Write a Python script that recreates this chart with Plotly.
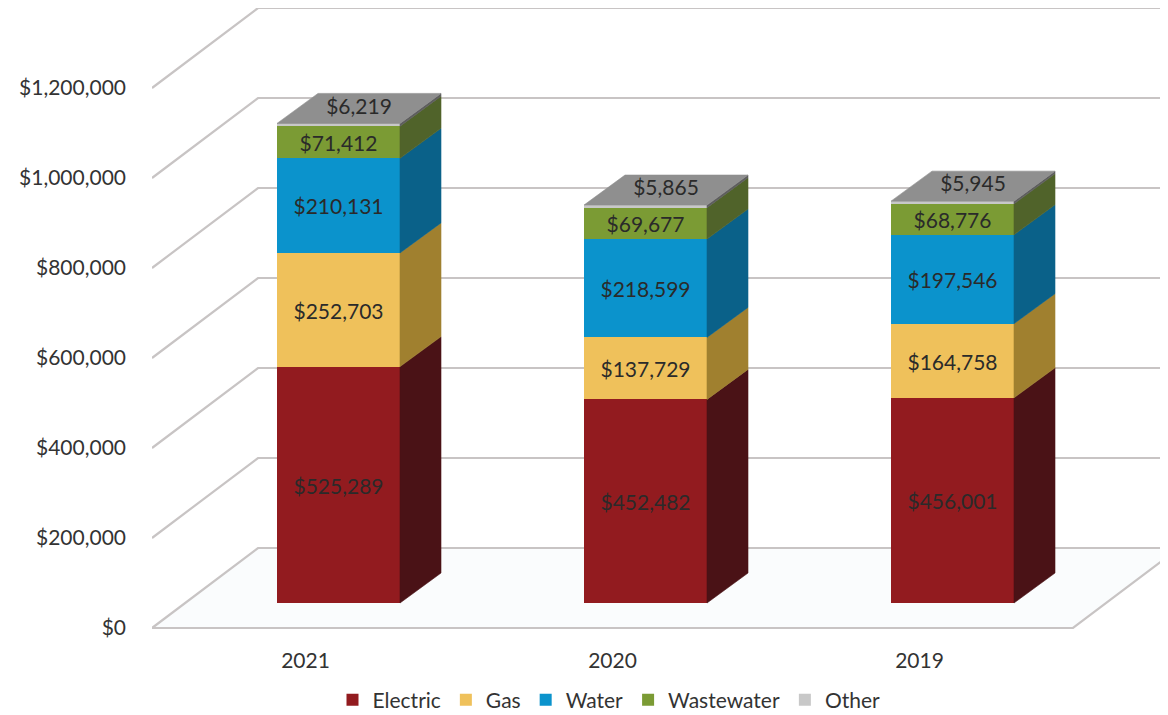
import plotly.graph_objects as go

# ---------------- data ----------------
YEARS = ["2021", "2020", "2019"]
SERIES = ["Electric", "Gas", "Water", "Wastewater", "Other"]
ELECTRIC = [525289, 452482, 456001]
GAS = [252703, 137729, 164758]
WATER = [210131, 218599, 197546]
WASTEWATER = [71412, 69677, 68776]
OTHER = [6219, 5865, 5945]
Y_TICKS = [0, 200000, 400000, 600000, 800000, 1000000, 1200000]

VALUES = [ELECTRIC, GAS, WATER, WASTEWATER, OTHER]

# ---------------- styles ----------------
FRONT = ["#921b1f", "#efc15b", "#0b93cc", "#7b9b34", "#c8c8c8"]
SIDE = ["#4a1216", "#a0802f", "#0a6189", "#50632a", "#5e5e5e"]
TOP = "#8f8f8f"
TXT = "#2a2a2a"
AX_TXT = "#333333"
FONT = "Lato"
FS = 21

# page offset of the browser's default body margin
PAGE_OFF = 8
FIG_W, FIG_H = 1168 - PAGE_OFF, 715 - PAGE_OFF

# geometry (axis units: x -> one category per unit, y -> dollars)
PX_PER_X = 307.0
PX_PER_Y = 0.00045
BAR_W = 123 / PX_PER_X
FRONT_DX = 33 / PX_PER_X        # bar front plane offset into depth
FRONT_DY = 25 / PX_PER_Y
DEPTH_DX = 41 / PX_PER_X        # bar depth
DEPTH_DY = 30 / PX_PER_Y
WALL_DX = 106 / PX_PER_X        # full wall depth
WALL_DY = 80 / PX_PER_Y
X0 = -0.5
X_FLOOR_END = 2.5
PLOT_LEFT = 152 - PAGE_OFF
X_RANGE_END = X0 + (FIG_W - PLOT_LEFT) / PX_PER_X
PLOT_BOTTOM = 640 - PAGE_OFF
ZERO_Y = 628 - PAGE_OFF
Y_MIN = -(PLOT_BOTTOM - ZERO_Y) / PX_PER_Y
Y_MAX = Y_MIN + PLOT_BOTTOM / PX_PER_Y

fig = go.Figure()

n = len(YEARS)
cum = [0] * n
for j, name in enumerate(SERIES):
    vals = VALUES[j]
    xs = [i + FRONT_DX for i in range(n)]
    bases = [cum[i] + FRONT_DY for i in range(n)]
    show_text = name != "Other"
    fig.add_trace(go.Bar(
        name=name, x=xs, y=vals, base=bases, width=BAR_W,
        marker=dict(color=FRONT[j], line=dict(width=0)),
        text=[f"${v:,}" for v in vals] if show_text else None,
        textposition="inside" if show_text else "none",
        insidetextanchor="middle", textangle=0, constraintext="none",
        textfont=dict(family=FONT, size=FS, color=TXT),
        hovertemplate=name + ": $%{y:,}<extra></extra>",
    ))
    # side faces
    sx, sy = [], []
    for i in range(n):
        xr = i + FRONT_DX + BAR_W / 2
        a = cum[i] + FRONT_DY
        b = cum[i] + vals[i] + FRONT_DY
        sx += [xr, xr, xr + DEPTH_DX, xr + DEPTH_DX, xr, None]
        sy += [a, b, b + DEPTH_DY, a + DEPTH_DY, a, None]
    fig.add_trace(go.Scatter(
        x=sx, y=sy, mode="lines", fill="toself", fillcolor=SIDE[j],
        line=dict(color=SIDE[j], width=0.6), showlegend=False, hoverinfo="skip"))
    cum = [cum[i] + vals[i] for i in range(n)]

# top faces
tx, ty = [], []
for i in range(n):
    xl = i + FRONT_DX - BAR_W / 2
    xr = i + FRONT_DX + BAR_W / 2
    t = cum[i] + FRONT_DY
    tx += [xl, xr, xr + DEPTH_DX, xl + DEPTH_DX, xl, None]
    ty += [t, t, t + DEPTH_DY, t + DEPTH_DY, t, None]
fig.add_trace(go.Scatter(
    x=tx, y=ty, mode="lines", fill="toself", fillcolor=TOP,
    line=dict(color=TOP, width=0.6), showlegend=False, hoverinfo="skip"))

# labels for "Other" on the top face
fig.add_trace(go.Scatter(
    x=[i + FRONT_DX + DEPTH_DX / 2 for i in range(n)],
    y=[cum[i] + FRONT_DY + DEPTH_DY / 2 for i in range(n)],
    mode="text", text=[f"${v:,}" for v in OTHER],
    textfont=dict(family=FONT, size=FS, color=TXT),
    showlegend=False, hoverinfo="skip"))

# walls / gridlines
shapes = [dict(
    type="path", xref="x", yref="y", layer="below",
    path=f"M {X0},0 L {X_FLOOR_END},0 L {X_FLOOR_END + WALL_DX},{WALL_DY} L {X0 + WALL_DX},{WALL_DY} Z",
    fillcolor="#fafcfd", line=dict(width=0))]
GRID = "#c8c4c4"
for v in Y_TICKS:
    shapes.append(dict(
        type="path", xref="x", yref="y", layer="below",
        path=f"M {X0},{v} L {X0 + WALL_DX},{v + WALL_DY} L {X_RANGE_END + 0.1},{v + WALL_DY}",
        line=dict(color=GRID, width=2.2)))
shapes.append(dict(
    type="path", xref="x", yref="y", layer="below",
    path=f"M {X0},0 L {X_FLOOR_END},0 L {X_FLOOR_END + WALL_DX},{WALL_DY}",
    line=dict(color=GRID, width=2.2)))

fig.update_layout(
    width=FIG_W, height=FIG_H,
    margin=dict(l=PLOT_LEFT, r=0, t=0, b=FIG_H - PLOT_BOTTOM, autoexpand=False),
    paper_bgcolor="white", plot_bgcolor="white",
    barmode="overlay", bargap=0,
    shapes=shapes,
    font=dict(family=FONT, size=FS, color=AX_TXT),
    xaxis=dict(range=[X0, X_RANGE_END], tickvals=list(range(n)), ticktext=YEARS,
               showgrid=False, zeroline=False, showline=False, ticks="",
               ticklabelstandoff=6, tickfont=dict(family=FONT, size=FS, color=AX_TXT),
               fixedrange=True),
    yaxis=dict(range=[Y_MIN, Y_MAX], tickvals=Y_TICKS,
               ticktext=[f"${v:,}" for v in Y_TICKS],
               showgrid=False, zeroline=False, showline=False, ticks="",
               ticklabelstandoff=25, tickfont=dict(family=FONT, size=FS, color=AX_TXT),
               fixedrange=True),
    legend=dict(orientation="h", xref="container", yref="container",
                x=(609 - PAGE_OFF) / FIG_W, xanchor="center",
                y=1 - (700 - PAGE_OFF) / FIG_H, yanchor="middle",
                traceorder="normal", font=dict(family=FONT, size=FS, color=AX_TXT),
                itemclick=False, itemdoubleclick=False),
    showlegend=True,
)

fig.write_html("out.html")
